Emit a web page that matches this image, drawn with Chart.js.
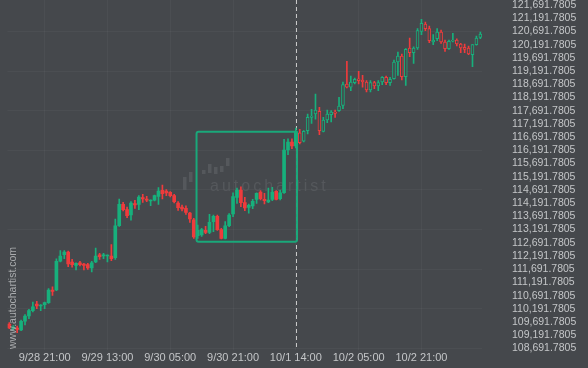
<!DOCTYPE html>
<html>
<head>
<meta charset="utf-8">
<script src="https://cdn.jsdelivr.net/npm/chart.js@4/dist/chart.umd.min.js"></script>
<style>
  html, body { margin: 0; padding: 0; background: #45484c; }
  #wrap { position: relative; width: 588px; height: 368px; }
</style>
</head>
<body>
<div id="wrap"><canvas id="chart"></canvas></div>
<script>
// hourly candles
const opens = [
  109618, 109440, 109466, 109390, 109720, 109920, 110121, 110374, 110299, 110348,
  110424, 110904, 110904, 111991, 112240, 112343, 111964, 111839, 111937, 111889,
  111862, 111737, 111964, 112240, 112191, 112191, 112191, 112127, 113338, 114148,
  113944, 113743, 114171, 114148, 114398, 114349, 114273, 114300, 114451, 114678,
  114652, 114602, 114474, 114197, 114046, 113997, 113819, 113565, 112960, 112986,
  113164, 113088, 113490, 113694, 113187, 112861, 113338, 113781, 114413, 114689,
  114209, 114034, 114084, 114337, 114614, 114337, 114235, 114337, 114640, 114360,
  114587, 116204, 116506, 116355, 116858, 116533, 116934, 117441, 117566, 117668,
  116911, 117339, 117540, 117642, 117691, 117895, 118702, 118577, 118751, 118902,
  118853, 118777, 118474, 118751, 118626, 118777, 118955, 118751, 118902, 119534,
  119761, 118978, 120064, 119886, 120064, 120696, 120973, 120795, 120291, 120416,
  120670, 120291, 120038, 120318, 120367, 120216, 120090, 120064, 119811, 120189,
  120468
];
const highs = [
  109667, 109560, 109541, 109769, 109970, 110174, 110450, 110477, 110348, 110450,
  110954, 111029, 112089, 112392, 112392, 112381, 112066, 111937, 111991, 111914,
  111914, 111991, 112494, 112293, 112293, 112240, 112619, 113592, 114349, 114224,
  114046, 114247, 114300, 114474, 114527, 114451, 114322, 114500, 114777, 114879,
  114701, 114625, 114527, 114247, 114122, 114095, 113845, 113618, 113365, 113240,
  113315, 113770, 113743, 113743, 113240, 113490, 113800, 114587, 114765, 114814,
  114413, 114159, 114337, 114587, 114663, 114564, 114765, 114792, 114663, 114689,
  116608, 116631, 116631, 117036, 116987, 116934, 117566, 117744, 118323, 117820,
  117441, 117718, 117691, 117718, 118198, 118777, 119561, 119004, 118929, 119182,
  119031, 118827, 118827, 118804, 118827, 118978, 119004, 118955, 119610, 119913,
  119837, 120038, 120443, 120113, 120795, 121150, 121048, 120897, 120568, 120795,
  120745, 120367, 120367, 120620, 120416, 120242, 120216, 120140, 120189, 120518,
  120670
];
const lows = [
  109440, 109380, 109288, 109364, 109580, 109818, 110072, 110196, 110121, 110196,
  110401, 110704, 110878, 111964, 112089, 111787, 111764, 111662, 111813, 111662,
  111688, 111586, 111937, 112066, 112089, 111964, 112013, 112066, 113315, 113895,
  113641, 113543, 113997, 113944, 114224, 114247, 114095, 114273, 114148, 114349,
  114474, 114424, 114197, 113921, 113895, 113769, 113467, 112861, 112861, 112937,
  113035, 113035, 113111, 113164, 112835, 112835, 113300, 113680, 114186, 114058,
  113906, 113808, 113982, 114186, 114311, 114159, 114209, 114285, 114311, 114311,
  114564, 116026, 116253, 116279, 116430, 116506, 116809, 117214, 117366, 116783,
  116885, 117237, 117263, 117441, 117668, 117767, 118550, 118448, 118702, 118702,
  118577, 118399, 118399, 118524, 118448, 118675, 118675, 118652, 118880, 119031,
  118853, 118652, 119735, 119485, 120015, 120568, 120719, 120265, 120189, 120340,
  120242, 119939, 120015, 120291, 120140, 119886, 119886, 119811, 119356, 120167,
  120416
];
const closes = [
  109466, 109500, 109417, 109720, 109920, 110121, 110272, 110299, 110325, 110424,
  110904, 110855, 111991, 112191, 112343, 111889, 111862, 111914, 111862, 111839,
  111737, 111937, 112191, 112165, 112240, 112218, 112089, 113338, 114148, 113944,
  113717, 114197, 114122, 114424, 114349, 114300, 114300, 114474, 114652, 114549,
  114576, 114474, 114247, 114019, 113970, 113845, 113592, 112911, 113164, 113187,
  113088, 113467, 113694, 113187, 112861, 113338, 113743, 114436, 114689, 114209,
  114008, 114109, 114262, 114564, 114360, 114285, 114311, 114614, 114337, 114587,
  116204, 116506, 116355, 116911, 116480, 116911, 117441, 117490, 117718, 116934,
  117339, 117566, 117642, 117592, 117869, 118675, 118577, 118777, 118880, 118827,
  118777, 118474, 118751, 118626, 118751, 118955, 118751, 118880, 119534, 119761,
  118978, 120015, 119886, 120064, 120719, 120999, 120795, 120340, 120367, 120670,
  120291, 120038, 120318, 120367, 120216, 120064, 120015, 119837, 120189, 120443,
  120594
];

// x tick labels sit every 16 candles, starting at candle index 9
const xTickLabels = ['9/28 21:00', '9/29 13:00', '9/30 05:00', '9/30 21:00', '10/1 14:00', '10/2 05:00', '10/2 21:00'];
const firstTickIndex = 9;
const tickStep = 16;

const yTicks = [
  108691.7805, 109191.7805, 109691.7805, 110191.7805, 110691.7805, 111191.7805,
  111691.7805, 112191.7805, 112691.7805, 113191.7805, 113691.7805, 114191.7805,
  114691.7805, 115191.7805, 115691.7805, 116191.7805, 116691.7805, 117191.7805,
  117691.7805, 118191.7805, 118691.7805, 119191.7805, 119691.7805, 120191.7805,
  120691.7805, 121191.7805, 121691.7805
];

// pattern (the green box) and the signal candle (dashed line)
const signalIndex = 73;
const patternStart = 47.7;
const patternEnd = 73.3;
const patternHigh = 116896;
const patternLow = 112733;

const BG = '#45484c';
const UP = '#17b07c';
const DOWN = '#ef3b3c';
const TEXT = '#c4c6c8';

const isUp = i => closes[i] >= opens[i];
const candleColor = i => isUp(i) ? UP : DOWN;
const hollow = i => i > signalIndex;

const labelFor = i => {
  const k = i - firstTickIndex;
  if (k < 0 || k % tickStep !== 0) return '';
  return xTickLabels[k / tickStep] || '';
};

const backgroundPlugin = {
  id: 'bg',
  beforeDraw(chart) {
    const c = chart.ctx;
    c.save();
    c.fillStyle = BG;
    c.fillRect(0, 0, chart.width, chart.height);
    c.restore();
  }
};

// faded autochartist logo behind the candles, and the signal line
const watermarkPlugin = {
  id: 'watermark',
  beforeDatasetsDraw(chart) {
    const c = chart.ctx;
    const x = chart.scales.x;
    const area = chart.chartArea;
    c.save();
    c.fillStyle = '#55585c';
    const bars = [[183, 177, 13], [189, 172, 10], [202, 170, 4], [208, 164, 9], [214, 167, 7], [220, 166, 6], [226, 158, 8]];
    bars.forEach(b => c.fillRect(b[0], b[1], 3.5, b[2]));
    c.font = '16px "Liberation Sans", Arial, sans-serif';
    c.letterSpacing = '3px';
    c.textBaseline = 'alphabetic';
    c.fillText('autochartist', 210, 191);
    c.restore();

    const sx = Math.round(x.getPixelForValue(signalIndex)) + 0.5;
    c.save();
    c.strokeStyle = '#c8c8c8';
    c.lineWidth = 1;
    c.setLineDash([4, 3]);
    c.beginPath();
    c.moveTo(sx, area.top);
    c.lineTo(sx, area.bottom);
    c.stroke();
    c.restore();
  },
  afterDatasetsDraw(chart) {
    const c = chart.ctx;
    const x = chart.scales.x;
    const y = chart.scales.y;
    const l = x.getPixelForValue(patternStart);
    const r = x.getPixelForValue(patternEnd);
    const t = y.getPixelForValue(patternHigh);
    const b = y.getPixelForValue(patternLow);
    c.save();
    c.strokeStyle = '#1aa87a';
    c.lineWidth = 2;
    c.beginPath();
    c.roundRect(l, t, r - l, b - t, 2);
    c.stroke();

    c.translate(13, 349);
    c.rotate(-Math.PI / 2);
    c.fillStyle = '#a9abad';
    c.font = '10.5px "Liberation Sans", Arial, sans-serif';
    c.textBaseline = 'middle';
    c.fillText('www.autochartist.com', 0, 0);
    c.restore();
  }
};

new Chart(document.getElementById('chart'), {
  type: 'bar',
  data: {
    labels: closes.map((_, i) => i),
    datasets: [
      {
        label: 'body',
        data: opens.map((o, i) => [o, closes[i]]),
        backgroundColor: opens.map((_, i) => hollow(i) ? BG : candleColor(i)),
        borderColor: opens.map((_, i) => candleColor(i)),
        borderWidth: opens.map((_, i) => hollow(i) ? 1 : 0),
        borderSkipped: false,
        barThickness: 3,
        minBarLength: 1,
        grouped: false
      },
      {
        label: 'wick',
        data: lows.map((lo, i) => [lo, highs[i]]),
        backgroundColor: lows.map((_, i) => candleColor(i)),
        borderWidth: 0,
        barThickness: 1,
        grouped: false
      }
    ]
  },
  options: {
    responsive: true,
    maintainAspectRatio: false,
    animation: false,
    layout: {
      autoPadding: false,
      padding: { left: 7.35, right: 12, top: 0, bottom: 0 }
    },
    plugins: {
      legend: { display: false },
      tooltip: { enabled: false }
    },
    scales: {
      x: {
        afterFit: axis => {
          axis.height = 18;
          axis.paddingLeft = 0;
          axis.paddingRight = 0;
        },
        border: { display: false },
        grid: {
          offset: false,
          drawTicks: false,
          color: ctx => labelFor(ctx.index) ? 'rgba(255,255,255,0.035)' : 'transparent'
        },
        ticks: {
          autoSkip: false,
          maxRotation: 0,
          minRotation: 0,
          padding: 1,
          color: TEXT,
          font: { family: 'Liberation Sans', size: 11 },
          callback: (value, index) => labelFor(index)
        }
      },
      y: {
        position: 'right',
        min: 108633.5,
        max: 121881,
        afterFit: axis => {
          axis.width = 93.7;
          axis.paddingTop = 0;
          axis.paddingBottom = 0;
        },
        afterBuildTicks: axis => { axis.ticks = yTicks.map(v => ({ value: v })); },
        border: { display: false },
        grid: {
          drawTicks: false,
          color: ctx => ctx.index % 3 === 0 ? 'rgba(255,255,255,0.035)' : 'transparent'
        },
        ticks: {
          autoSkip: false,
          padding: 29.7,
          color: TEXT,
          font: { family: 'Liberation Sans', size: 10.5 },
          callback: v => Number(v).toLocaleString('en-US', { minimumFractionDigits: 4, maximumFractionDigits: 4 })
        }
      }
    }
  },
  plugins: [backgroundPlugin, watermarkPlugin]
});
</script>
</body>
</html>
